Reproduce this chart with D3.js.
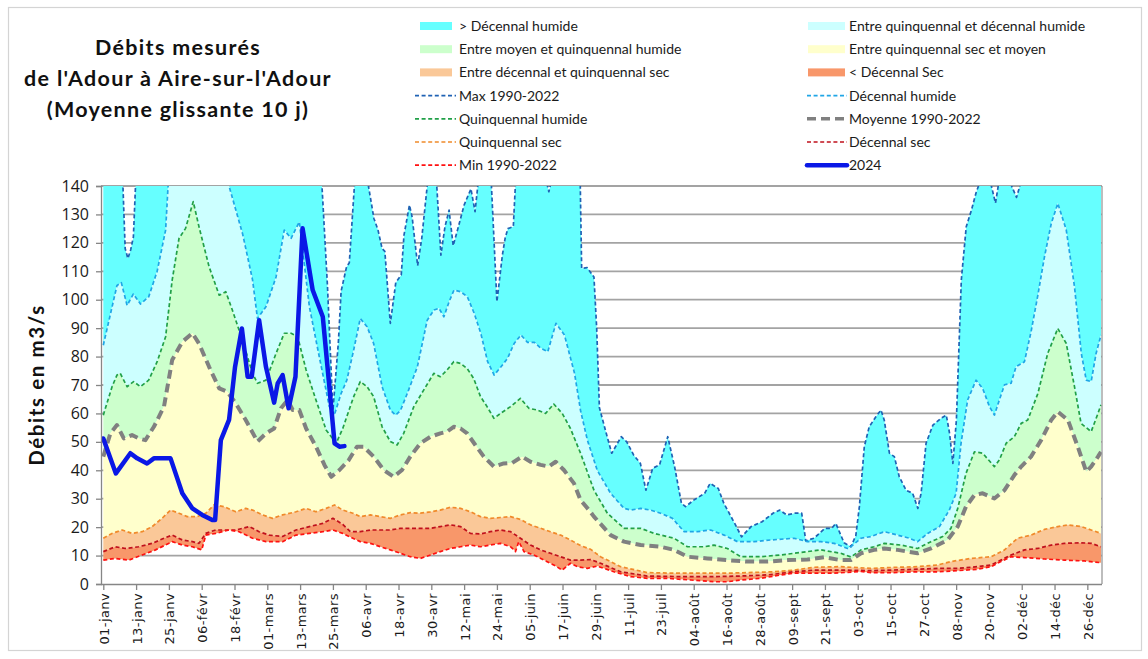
<!DOCTYPE html>
<html lang="fr">
<head>
<meta charset="utf-8">
<title>Débits mesurés de l'Adour à Aire-sur-l'Adour</title>
<script src="https://cdn.jsdelivr.net/npm/d3@7"></script>
<style>
  html, body { margin: 0; padding: 0; background: #ffffff; }
  svg { display: block; }
</style>
</head>
<body>
<svg id="chart" width="1148" height="659"></svg>
<script>
// Day-of-year index (0 = 1 January 2024) and flow in m3/s, 10-day moving average.
// Values above 140 leave the plotted range and are clipped.
const maxSerie = [
  [0,150],[7,145],[8,118],[9,114.5],[10,117.5],[11,122],[12,145],[20,165],[40,170],[60,165],
  [78,150],[80,140],[82,105],[84,61],[86,85],[87,103],[89,111.6],[90,113],[92,142],[94,155],
  [96,145],[97,140],[99,128.6],[100.5,124.5],[102,118],[103,117],[105,91.7],[107,106],[109,108.7],
  [110,122.7],[112,133.3],[113,129],[115,112],[116.5,121.6],[118.5,140],[120,150],[122,140],
  [123.5,115.7],[125,125.7],[126.5,131.5],[128,119],[130,126],[132,133.3],[134.5,139],[136,131],
  [137,140],[139.5,155],[142,140],[144,99.3],[146,115.7],[147,121.6],[148,125],[150,125.7],[151,145],
  [157,170],[162,142],[163,138],[164,142],[168,165],[173,145],[174.5,140],[175,111],[177,111.3],
  [179.5,108],[180.5,90],[181.5,62],[184,53],[186,46],[189.5,51.8],[191.5,50],[194,45.4],[196.5,42.4],
  [198.5,33],[201,40.7],[203.5,41.9],[206.5,51.8],[209,41.3],[211.5,28.4],[213,27.2],[216,29.5],
  [220,31.9],[222,35.4],[225,33.6],[227,28.4],[231,21.3],[233.5,16.6],[237,20.2],[241,21.9],
  [245,24.9],[247.5,26],[250,24.3],[253,24.9],[255.5,24.9],[257,15.2],[260,16.1],[264,19.6],
  [266.5,19.6],[268,21.3],[271,14.5],[273.5,13.1],[275.3,17],[276.6,27.2],[278.4,48.3],[280.2,55.3],
  [282.7,58.9],[284.5,61.2],[285.7,57.7],[287.6,46],[289.4,44.8],[291.2,37.7],[293.7,33],[296.1,31.9],
  [298,26.6],[299.2,32],[301,49.5],[303.5,55.9],[306.5,58.3],[308.4,59.4],[309.6,53],[310.8,42.4],
  [312.1,57.7],[313.9,107],[315.7,125.7],[317.6,131.5],[319.4,138],[320.6,141],[322,145],[324.9,140],
  [326.4,134],[327.4,140],[329,145],[332.3,140],[334.1,136],[335.3,140],[340,160],[365,150]
];
const decHumide = [
  [0,84],[5,105],[6.6,106],[8.7,98],[11,102],[13.6,98.5],[16.6,101],[19.7,110],[22.8,124.5],
  [23.7,140],[28,152],[35,158],[42,150],[46,140],[51,123],[54.6,107],[56.4,93.4],[59.5,97.5],
  [63.2,108],[66.2,124.5],[68.7,121.6],[71.7,127.4],[75.4,97.5],[79,80],[82.7,62.4],[84.5,59.4],
  [87,67],[89.1,71.7],[91.6,82.3],[94,93.4],[96.5,90.5],[98.9,84.6],[102,69.4],[105,61.2],
  [106.9,59.4],[108.7,61],[111.2,67],[114.9,76.4],[118.5,92.8],[121,96.4],[122.8,97],[124.6,94],
  [126.5,99.3],[128.3,103.4],[130.8,102.8],[133.2,101],[135.7,95.2],[138.1,88.2],[140.6,78.2],
  [143,73.5],[145.5,76.4],[147.9,79.4],[150.3,84.6],[152.8,87.6],[155.2,85],[157.7,85],[160.1,82.9],
  [162.6,81.7],[165.6,91.7],[168.7,87.6],[172.4,74.1],[174.6,61],[177.1,50.6],[180.7,40],
  [185.6,31.9],[190.5,26.6],[193,26],[196.6,26.6],[200.2,26],[203.9,24.9],[208.2,23.1],[212.5,18.4],
  [217.3,18.4],[222.2,19],[227.1,17.2],[232,14.9],[238.1,14.9],[244.2,15.5],[252.7,16.1],
  [257.6,14.9],[262.5,14.9],[267.4,14.3],[272.3,12.5],[273.5,13.1],[277.2,16.1],[280.8,16.7],
  [285.7,18.4],[290.6,17.2],[294.9,16.1],[297.9,14.9],[301.6,17.8],[305.9,20.2],[309.5,26],[312,31.9],
  [313.8,49.5],[316.2,64.7],[319.3,71.7],[321.7,68.8],[324.2,62.4],[326,59.4],[327.8,64.7],
  [329.7,70.1],[332.1,70.6],[333.9,76.4],[337,78.2],[339.4,88.7],[341.9,101.6],[344.3,115],
  [346.8,126.8],[349.2,133.9],[352.3,124.5],[355.3,104.6],[357.8,81.1],[359.6,71.7],[361.4,71.2],
  [363.2,81.1],[365,87.6]
];
const quinqHumide = [
  [0,59.4],[3.2,69.4],[5,73.5],[6.2,74.1],[8.7,69.4],[11.1,71.2],[13.6,69.4],[16.6,71.7],[19.7,78.2],
  [22.8,87],[25.2,106.9],[27.7,121.6],[30.1,125.1],[32.9,134.5],[35,125.7],[38.7,111.6],[42.4,101.6],
  [44.8,102.8],[47.2,96.4],[50.9,85.8],[54.6,74.1],[56.4,70.6],[59.5,71.7],[63.2,81.1],[66.2,88.2],
  [68.7,88.2],[71.1,87],[74.2,75.3],[77.8,64.7],[81.5,54.2],[85.2,49.5],[87.6,54.7],[89.1,58.9],
  [91.6,65.9],[94,71.2],[96.5,69.4],[98.9,65.9],[102,55.3],[105,50.1],[107.5,48.9],[109.9,53],
  [113.6,62.4],[117.2,68.2],[120.9,74.1],[123.3,72.9],[125.8,75.3],[128.2,78.2],[130.7,77.6],
  [133.1,75.8],[135.5,72.3],[138,65.9],[140.4,62.4],[142.9,58.3],[145.3,60],[149,62.4],[152.6,65.3],
  [155.7,61.8],[158.7,61.2],[161.8,60],[164.8,63.3],[167.9,60],[170.9,54.7],[174.6,46],[179.5,33],
  [184.4,24.9],[190.5,19.6],[196.6,19.6],[201.5,17.8],[208.8,16.1],[213.7,13.1],[219.8,13.1],
  [223.4,13.7],[228.3,12.5],[233.2,9.6],[240.5,9.6],[247.9,10.2],[252.7,10.8],[257.6,11.4],
  [262.5,12],[269.8,10.8],[273.5,9.5],[277.2,12],[282,13.1],[285.7,14.3],[291.8,13.7],[297.9,12.5],
  [302.8,14.9],[307.1,16.7],[310.1,19.6],[312.6,26.6],[315.6,38.9],[318.7,46.5],[321.7,46],
  [326,41.3],[327.8,43.6],[330.3,49.5],[333.3,51.8],[335.8,56.5],[338.2,57.7],[341.9,67],
  [345.5,81.1],[349.2,89.9],[352.3,84.6],[355.3,69.4],[357.7,56.5],[361.4,53.6],[363.9,60],[365,63]
];
const moyenne = [
  [0,44.8],[2.6,53],[5,55.9],[7.5,51.2],[10.5,52.4],[13,51.2],[15.4,50.6],[18.5,55.3],[22.2,62.4],
  [25.2,78.8],[28.9,85.2],[32.6,88.2],[35,84.6],[38.7,76.4],[42.4,68.8],[45.4,67.6],[48.5,63.5],
  [52.1,57.7],[56.4,50.1],[59.5,53],[62.5,54.7],[65,61.8],[67.4,64.7],[69.3,61.2],[71.7,61.2],
  [74.2,54.7],[77.8,48.3],[80.9,41.9],[83.4,37.7],[86.4,40.1],[89.8,43.6],[92.8,48.3],[95.2,48.3],
  [98.9,44.8],[102.6,40.1],[106.2,37.7],[109.3,40.1],[112.3,44.8],[116,49.5],[119.7,51.8],[123.3,53],
  [125.8,53.6],[128.2,55.3],[130.7,54.7],[133.1,53],[136.1,48.9],[139.2,44.8],[142.9,41.3],
  [146.5,42.4],[149.6,42.6],[153.2,44.8],[156.3,43],[160,41.9],[163,41.3],[165.5,43],[168.5,40.1],
  [172.2,35.4],[174.6,29.5],[177.7,26],[179.5,23.7],[185.6,17.2],[190.5,14.9],[196.6,13.7],
  [203.9,13.1],[208.8,12],[213.7,9.6],[221,9],[228.3,8.4],[235.6,7.9],[243,7.9],[250.3,8.4],
  [257.6,8.6],[263.7,9.4],[269.8,8.4],[273.5,8.4],[277.2,10.8],[282,12],[285.7,12.5],[290.6,12],
  [297.9,10.8],[302.8,12.5],[308.9,15.5],[312.6,20.2],[315.6,27.2],[318.7,31.3],[321.7,31.9],
  [326,30.1],[329.7,33],[333.3,38.3],[335.8,41.3],[339.4,44.8],[343.1,50.6],[346.8,57.7],
  [349.2,60.6],[352.9,57.7],[356.5,48.3],[359.6,39.5],[361.4,41.3],[363.9,44.8],[365,46.5]
];
const quinqSec = [
  [0,16.1],[3.2,17.8],[6.9,19],[10.5,17.8],[14.2,18.4],[17.9,20.2],[21.5,23.1],[24.6,26],[27.7,24.9],
  [30.7,23.7],[34.4,23.7],[37.5,24.9],[40.5,27.8],[44.2,27.2],[48.5,25.4],[52.1,26.6],[54.6,26],
  [58.3,24.3],[61.9,23.1],[65.6,24.3],[70.5,25.4],[74.2,26.6],[77.8,25.4],[81.5,26.6],[84.6,27.8],
  [87.6,26],[91.3,24.9],[94,23.7],[97.7,24.3],[101.4,23.7],[105,23.1],[108.7,24.3],[112.3,25.1],
  [116,24.9],[119.7,25.4],[123.3,26],[127,27],[130.7,26.6],[134.3,25.4],[138,23.7],[141.6,23.1],
  [145.3,23.4],[149,23.7],[152.6,22.7],[156.3,20.8],[160,19.6],[163.6,18.4],[167.3,17.2],[170.9,15.5],
  [174.6,13.5],[178.3,12.2],[181.9,9.6],[189.3,6.1],[199,4],[208.8,3.8],[218.6,3.8],[228.3,3.8],
  [235.6,4],[245.4,4.3],[252.7,4.9],[260.1,5.9],[269.8,6.1],[280.8,5.5],[288.2,5.8],[297.9,6.1],
  [305.2,6.7],[310.1,7.9],[317.5,9],[324.8,9.6],[329.7,12],[334.5,16.1],[339.4,17.2],[344.3,19.2],
  [349.2,20.2],[352.9,20.8],[357.7,20.2],[361.4,19],[365,17.8]
];
const decSec = [
  [0,11.4],[4.4,13.1],[8.1,12.5],[13,13.1],[17.9,14.3],[22.2,16.1],[25.2,17.2],[28.9,15.5],[32.6,14.9],
  [35,14.3],[37.5,17.8],[41.1,19],[48.5,19],[53.4,20.2],[57,18.4],[60.7,17.2],[65.6,16.7],[70.5,19],
  [75.4,20.2],[80.3,21.3],[84,23.1],[87.6,21],[90.4,18.4],[94,18.4],[97.7,19],[105,19],[108.7,19.6],
  [119.7,19.6],[123.3,20.2],[127,20.8],[130.7,20.2],[134.3,17.8],[138,17.6],[141.6,18.4],[145.3,19],
  [149,18.4],[152.6,16.1],[156.3,13.7],[160,12],[163.6,10.8],[167.3,9.6],[170.9,8.4],[174.6,8.4],
  [178.3,8.6],[181.9,7.3],[189.3,4.3],[199,2.8],[211.2,2.6],[223.4,2.6],[233.2,2.8],[243,3.2],
  [252.7,4.3],[260.1,4.9],[269.8,4.9],[280.8,4.7],[288.2,4.9],[297.9,5.2],[305.2,5.5],[312.6,5.5],
  [319.9,6.1],[324.8,6.7],[328.4,8.4],[332.1,10.2],[337,12],[341.9,12.5],[346.8,13.7],[351.6,14.3],
  [357.7,14.5],[361.4,14.3],[365,13.1]
];
const minSerie = [
  [0,8.4],[4.4,9],[9.3,8.4],[14.2,10.2],[19.1,12],[25.2,14.9],[28.9,13.7],[32.6,13.1],[36,12],
  [37.5,17.2],[41.1,17.8],[46,19],[49.7,18.4],[54.6,16.1],[59.5,14.9],[65.6,14.9],[70.5,17.2],
  [75.4,17.8],[80.3,18.4],[84,19],[87.6,17.8],[91.3,16.1],[94,14.9],[97.7,14.3],[101.4,13.1],
  [105,12],[108.7,10.8],[112.3,9.6],[116,9],[119.7,10.2],[123.3,11.4],[127,12.5],[130.7,13.1],
  [134.3,13.7],[138,13.1],[141.6,13.7],[145.3,14.3],[149,13.1],[150.8,11.4],[152,14.9],[153.9,11.4],
  [157.5,10.2],[161.2,8.4],[164.8,6.7],[167.9,4.9],[170.9,7.3],[173.4,6.1],[177.1,5.5],[180.7,6.3],
  [186.8,4.3],[192.9,2.6],[199,2],[206.3,2],[214.9,1.4],[223.4,0.8],[228.3,0.8],[233.2,1.4],
  [240.5,2],[247.9,3.2],[252.7,3.8],[267.4,3.8],[277.2,4.4],[280.8,4],[288.2,4],[297.9,4.3],
  [305.2,4.3],[312.6,4.7],[319.9,5.2],[324.8,6.1],[328.4,7.9],[332.1,9.6],[337,9.3],[344.3,8.8],
  [351.6,8.4],[359,8.1],[365,7.5]
];
const serie2024 = [
  [0,51.2],[4.6,38.9],[9.9,46],[12.4,44.2],[16,42.4],[18.5,44.2],[24.6,44.2],[28.9,31.9],[32.6,26.6],
  [36.2,24.3],[39.9,22.5],[40.9,22.5],[43,50.6],[46,57.7],[48.2,76.4],[50.7,89.9],[52.8,72.9],
  [54.3,72.9],[57,92.8],[59.5,76.4],[62.5,63.8],[63.8,70.6],[65.6,73.5],[67.8,61.8],[70.3,72.9],
  [72.9,125.1],[76.6,103.4],[80.3,94],[82.7,69.4],[84.6,49.5],[86.4,48.3],[88.2,48.5]
];

// Axis labels
const xTickLabels = [
  "01-janv","13-janv","25-janv","06-févr","18-févr","01-mars","13-mars","25-mars","06-avr","18-avr",
  "30-avr","12-mai","24-mai","05-juin","17-juin","29-juin","11-juil","23-juil","04-août","16-août",
  "28-août","09-sept","21-sept","03-oct","15-oct","27-oct","08-nov","20-nov","02-déc","14-déc","26-déc"
];
const xTickStepDays = 12;
const yTicks = [0,10,20,30,40,50,60,70,80,90,100,110,120,130,140];
const titleLines = ["Débits mesurés", "de l'Adour à Aire-sur-l'Adour", "(Moyenne glissante 10 j)"];
const yAxisTitle = "Débits en m3/s";

// Colours
const C = {
  cyan: "#66FFFF", cyanLight: "#CCFFFF", green: "#CCFFCC", yellow: "#FFFFCC",
  orangeLight: "#FAC898", orange: "#F8976A",
  lMax: "#1F62B4", lDecH: "#20A6E6", lQuinqH: "#21A048", lMoy: "#808080",
  lQuinqS: "#F08A2A", lDecS: "#C0101C", lMin: "#FF1010", l2024: "#0A18E6"
};

// Bands between envelope curves
const bands = [
  { upper: maxSerie,    lower: decHumide,   fill: C.cyan },
  { upper: decHumide,   lower: quinqHumide, fill: C.cyanLight },
  { upper: quinqHumide, lower: moyenne,     fill: C.green },
  { upper: moyenne,     lower: quinqSec,    fill: C.yellow },
  { upper: quinqSec,    lower: decSec,      fill: C.orangeLight },
  { upper: decSec,      lower: minSerie,    fill: C.orange }
];
const curves = [
  { data: maxSerie,    stroke: C.lMax,    width: 1.7, dash: "4,2.6" },
  { data: decHumide,   stroke: C.lDecH,   width: 1.7, dash: "4,2.6" },
  { data: quinqHumide, stroke: C.lQuinqH, width: 1.7, dash: "4,2.6" },
  { data: quinqSec,    stroke: C.lQuinqS, width: 1.7, dash: "4,2.6" },
  { data: decSec,      stroke: C.lDecS,   width: 1.7, dash: "4,2.6" },
  { data: minSerie,    stroke: C.lMin,    width: 1.7, dash: "4,2.6" },
  { data: moyenne,     stroke: C.lMoy,    width: 4,   dash: "9,5" }
];

const legendItems = [
  { col: 0, row: 0, label: "> Décennal humide", kind: "area", color: C.cyan },
  { col: 1, row: 0, label: "Entre quinquennal et décennal humide", kind: "area", color: C.cyanLight },
  { col: 0, row: 1, label: "Entre moyen et quinquennal humide", kind: "area", color: C.green },
  { col: 1, row: 1, label: "Entre quinquennal sec et moyen", kind: "area", color: C.yellow },
  { col: 0, row: 2, label: "Entre décennal et quinquennal sec", kind: "area", color: C.orangeLight },
  { col: 1, row: 2, label: "< Décennal Sec", kind: "area", color: C.orange },
  { col: 0, row: 3, label: "Max 1990-2022", kind: "line", color: C.lMax, width: 1.7, dash: "4,2.6" },
  { col: 1, row: 3, label: "Décennal humide", kind: "line", color: C.lDecH, width: 1.7, dash: "4,2.6" },
  { col: 0, row: 4, label: "Quinquennal humide", kind: "line", color: C.lQuinqH, width: 1.7, dash: "4,2.6" },
  { col: 1, row: 4, label: "Moyenne 1990-2022", kind: "line", color: C.lMoy, width: 3.5, dash: "9,5" },
  { col: 0, row: 5, label: "Quinquennal sec", kind: "line", color: C.lQuinqS, width: 1.7, dash: "4,2.6" },
  { col: 1, row: 5, label: "Décennal sec", kind: "line", color: C.lDecS, width: 1.7, dash: "4,2.6" },
  { col: 0, row: 6, label: "Min 1990-2022", kind: "line", color: C.lMin, width: 1.7, dash: "4,2.6" },
  { col: 1, row: 6, label: "2024", kind: "line", color: C.l2024, width: 4.5, dash: null }
];

// ---------- layout ----------
const svg = d3.select("#chart");
const plot = { left: 101, right: 1102, top: 186, bottom: 584 };
const x = d3.scaleLinear().domain([0, 365]).range([103.3, 1101]);
const y = d3.scaleLinear().domain([0, 140]).range([584, 186]);
const line = d3.line().x(d => x(d[0])).y(d => y(d[1]));

svg.append("rect").attr("width", 1148).attr("height", 659).attr("fill", "#fff");
// outer frame
svg.append("rect").attr("x", 8.5).attr("y", 7.5).attr("width", 1133).attr("height", 643)
  .attr("fill", "none").attr("stroke", "#d4d4d4").attr("stroke-width", 1.2);

// title
const title = svg.append("g")
  .attr("font-family", "Lato, 'Open Sans', sans-serif").attr("font-weight", 700)
  .attr("font-size", 21.5).attr("letter-spacing", 1.3)
  .attr("fill", "#111").attr("text-anchor", "middle");
titleLines.forEach((t, i) => {
  title.append("text").attr("x", 178).attr("y", 55 + i * 31.2).text(t);
});

// clip for the plot area
svg.append("defs").append("clipPath").attr("id", "plotClip")
  .append("rect").attr("x", plot.left).attr("y", plot.top)
  .attr("width", plot.right - plot.left).attr("height", plot.bottom - plot.top);

// horizontal gridlines (behind the bands)
svg.append("g").selectAll("line").data(yTicks.filter(v => v > 0)).join("line")
  .attr("x1", plot.left).attr("x2", plot.right)
  .attr("y1", d => y(d)).attr("y2", d => y(d))
  .attr("stroke", "#a3a3a3").attr("stroke-width", 1.8);

const gPlot = svg.append("g").attr("clip-path", "url(#plotClip)");

// filled bands
bands.forEach(b => {
  const poly = b.upper.concat(b.lower.slice().reverse());
  gPlot.append("path").attr("d", line(poly) + "Z").attr("fill", b.fill).attr("stroke", "none");
});

// dashed envelope curves
curves.forEach(c => {
  gPlot.append("path").attr("d", line(c.data)).attr("fill", "none")
    .attr("stroke", c.stroke).attr("stroke-width", c.width)
    .attr("stroke-dasharray", c.dash).attr("stroke-linejoin", "round");
});

// 2024 observed flow
gPlot.append("path").attr("d", line(serie2024)).attr("fill", "none")
  .attr("stroke", C.l2024).attr("stroke-width", 4.5)
  .attr("stroke-linejoin", "round").attr("stroke-linecap", "round");

// plot frame: right edge
svg.append("line").attr("x1", plot.right).attr("x2", plot.right)
  .attr("y1", plot.top).attr("y2", plot.bottom).attr("stroke", "#9a9a9a").attr("stroke-width", 1.3);

// y axis
const yAxis = d3.axisLeft(y).tickValues(yTicks).tickSize(5).tickPadding(7).tickFormat(d3.format("d"));
const gy = svg.append("g").attr("transform", `translate(${plot.left},0)`).call(yAxis);
gy.select(".domain").attr("stroke", "#868686").attr("stroke-width", 1.3);
gy.selectAll(".tick line").attr("stroke", "#868686").attr("stroke-width", 1.3);
gy.selectAll(".tick text").attr("font-family", "'Open Sans', sans-serif")
  .attr("font-size", 16).attr("fill", "#1a1a1a");

// x axis
const xTickValues = xTickLabels.map((_, i) => i * xTickStepDays);
const xAxis = d3.axisBottom(x).tickValues(xTickValues).tickSize(6)
  .tickFormat((d, i) => xTickLabels[i]);
const gx = svg.append("g").attr("transform", `translate(0,${plot.bottom})`).call(xAxis);
gx.select(".domain").attr("d", `M${plot.left},0.5H${plot.right}`)
  .attr("stroke", "#868686").attr("stroke-width", 1.3);
gx.selectAll(".tick line").attr("stroke", "#868686").attr("stroke-width", 1.3);
gx.selectAll(".tick text")
  .attr("font-family", "'DejaVu Sans', Verdana, sans-serif").attr("font-size", 13)
  .attr("letter-spacing", 0.4).attr("fill", "#1a1a1a")
  .attr("text-anchor", "end").attr("dy", null).attr("y", 0)
  .attr("transform", "translate(5,9) rotate(-90)");

// y axis title, centred on the plot height
svg.append("text").attr("transform", `translate(44,${(plot.top + plot.bottom) / 2}) rotate(-90)`)
  .attr("text-anchor", "middle").attr("font-family", "Lato, 'Open Sans', sans-serif")
  .attr("font-weight", 700).attr("font-size", 20.5).attr("letter-spacing", 1.6)
  .attr("fill", "#111").text(yAxisTitle);

// legend
const legendCols = [
  { lineX1: 415, lineX2: 456, swX: 420, swW: 32, textX: 459 },
  { lineX1: 807, lineX2: 847, swX: 808, swW: 37, textX: 849 }
];
const gLeg = svg.append("g").attr("font-family", "Lato, 'Open Sans', sans-serif")
  .attr("font-size", 14).attr("fill", "#1a1a1a");
legendItems.forEach(it => {
  const col = legendCols[it.col];
  const cy = 26 + it.row * 23.2;
  if (it.kind === "area") {
    gLeg.append("rect").attr("x", col.swX).attr("y", cy - 4).attr("width", col.swW).attr("height", 8)
      .attr("fill", it.color);
  } else {
    gLeg.append("line").attr("x1", col.lineX1).attr("x2", col.lineX2).attr("y1", cy).attr("y2", cy)
      .attr("stroke", it.color).attr("stroke-width", it.width)
      .attr("stroke-dasharray", it.dash).attr("stroke-linecap", it.dash ? "butt" : "round");
  }
  gLeg.append("text").attr("x", col.textX).attr("y", cy + 5).text(it.label);
});
</script>
</body>
</html>
